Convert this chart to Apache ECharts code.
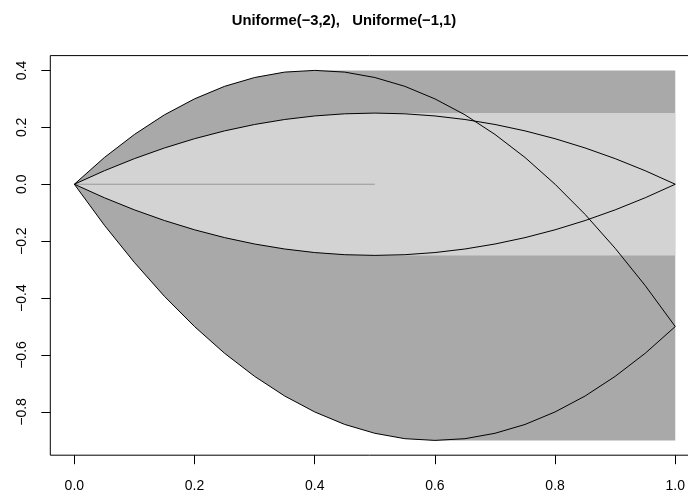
<!DOCTYPE html>
<html>
<head>
<meta charset="utf-8">
<script src="https://cdn.jsdelivr.net/npm/echarts@6/dist/echarts.min.js"></script>
<style>
  html, body { margin: 0; padding: 0; background: #ffffff; }
  #chart { width: 688px; height: 494px; }
</style>
</head>
<body>
<div id="chart"></div>
<script>
// proportion p on the horizontal axis
const p = [0, 0.05, 0.1, 0.15, 0.2, 0.25, 0.3, 0.35, 0.4, 0.45, 0.5,
           0.55, 0.6, 0.65, 0.7, 0.75, 0.8, 0.85, 0.9, 0.95, 1];

// Uniforme(-3,2): upper and lower bounding curves
const upperA = [0, 0.094, 0.175, 0.244, 0.3, 0.344, 0.375, 0.394, 0.4, 0.394, 0.375,
                0.344, 0.3, 0.244, 0.175, 0.094, 0, -0.106, -0.225, -0.356, -0.5];
const lowerA = [0, -0.144, -0.275, -0.394, -0.5, -0.594, -0.675, -0.744, -0.8, -0.844, -0.875,
                -0.894, -0.9, -0.894, -0.875, -0.844, -0.8, -0.744, -0.675, -0.594, -0.5];

// Uniforme(-1,1): upper and lower bounding curves
const upperB = [0, 0.0475, 0.09, 0.1275, 0.16, 0.1875, 0.21, 0.2275, 0.24, 0.2475, 0.25,
                0.2475, 0.24, 0.2275, 0.21, 0.1875, 0.16, 0.1275, 0.09, 0.0475, 0];
const lowerB = [0, -0.0475, -0.09, -0.1275, -0.16, -0.1875, -0.21, -0.2275, -0.24, -0.2475, -0.25,
                -0.2475, -0.24, -0.2275, -0.21, -0.1875, -0.16, -0.1275, -0.09, -0.0475, 0];

// grey reference segment along zero
const refX = [0, 0.5];
const refY = [0, 0];

const xTicks = [0, 0.2, 0.4, 0.6, 0.8, 1];
const yTicks = [-0.8, -0.6, -0.4, -0.2, 0, 0.2, 0.4];

const titleText = 'Uniforme(\u22123,2),   Uniforme(\u22121,1)';

// envelope: running max of the upper curve, running min of the lower curve
function envelope(up, lo) {
  const pts = [];
  let m = -Infinity;
  for (let i = 0; i < p.length; i++) { m = Math.max(m, up[i]); pts.push([p[i], m]); }
  const low = [];
  let n = Infinity;
  for (let i = 0; i < p.length; i++) { n = Math.min(n, lo[i]); low.push([p[i], n]); }
  return pts.concat(low.reverse());
}

function polygonSeries(points, color) {
  return {
    type: 'custom',
    silent: true,
    data: [0],
    renderItem: function (params, api) {
      return {
        type: 'polygon',
        shape: { points: points.map(function (q) { return api.coord(q); }) },
        style: { fill: color, stroke: null }
      };
    }
  };
}

function curve(ys, color, width) {
  return {
    type: 'line',
    data: p.map(function (x, i) { return [x, ys[i]]; }),
    showSymbol: false,
    silent: true,
    lineStyle: { color: color, width: width },
    z: 5
  };
}

const minus = function (v) {
  const s = v.toFixed(1);
  return s.replace('-', '\u2212');
};

const font = 'Liberation Sans, Arial, sans-serif';

const chart = echarts.init(document.getElementById('chart'), null, { renderer: 'canvas' });
chart.setOption({
  animation: false,
  backgroundColor: '#ffffff',
  title: {
    text: titleText,
    left: 'center',
    top: 8,
    textStyle: { fontFamily: font, fontSize: 14.8, fontWeight: 'bold', color: '#000' }
  },
  grid: {
    left: 50.3, top: 55.6, width: 649, height: 399.6,
    outerBoundsMode: 'none', containLabel: false,
    show: true, borderColor: '#000', borderWidth: 1, backgroundColor: 'transparent'
  },
  xAxis: {
    type: 'value', min: -0.04, max: 1.04,
    splitLine: { show: false },
    axisLine: { show: false, onZero: false },
    axisTick: { show: true, inside: false, length: 9, customValues: xTicks, lineStyle: { color: '#000' } },
    axisLabel: {
      customValues: xTicks, margin: 24, fontSize: 14, color: '#000',
      fontFamily: font, formatter: minus
    }
  },
  yAxis: {
    type: 'value', min: -0.952, max: 0.452,
    splitLine: { show: false },
    axisLine: { show: false, onZero: false },
    axisTick: { show: true, inside: false, length: 9, customValues: yTicks, lineStyle: { color: '#000' } },
    axisLabel: {
      customValues: yTicks, margin: 21, fontSize: 14, color: '#000', rotate: 90,
      fontFamily: font, formatter: minus
    }
  },
  series: [
    polygonSeries(envelope(upperA, lowerA), '#a9a9a9'),
    polygonSeries(envelope(upperB, lowerB), '#d3d3d3'),
    curve(upperA, '#000', 1),
    curve(lowerA, '#000', 1),
    curve(upperB, '#000', 1),
    curve(lowerB, '#000', 1),
    {
      type: 'line',
      data: refX.map(function (x, i) { return [x, refY[i]]; }),
      showSymbol: false, silent: true,
      lineStyle: { color: '#999999', width: 1 }, z: 4
    }
  ]
});
</script>
</body>
</html>
